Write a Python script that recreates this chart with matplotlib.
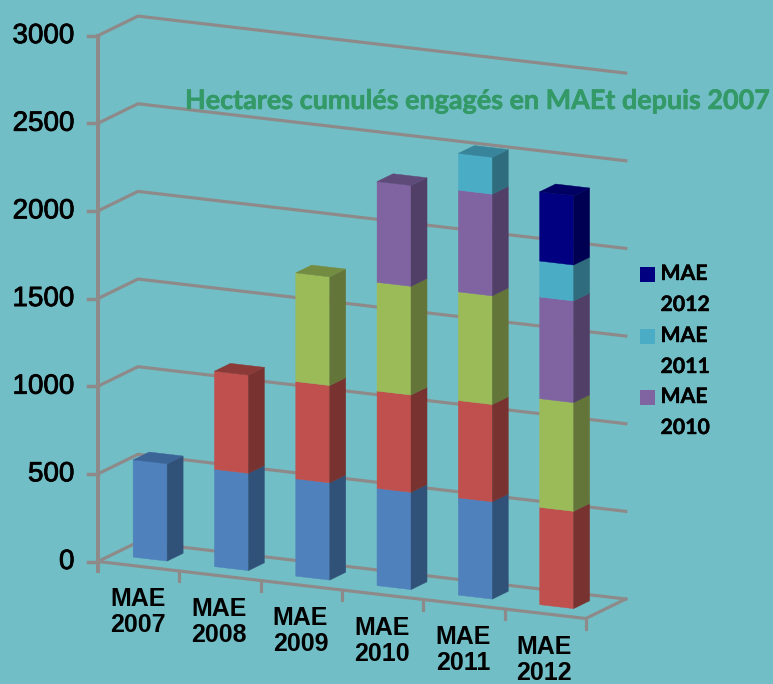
import matplotlib
matplotlib.use("Agg")
import matplotlib.pyplot as plt
import matplotlib.patheffects as pe

# data
categories = ["MAE\n2007", "MAE\n2008", "MAE\n2009", "MAE\n2010", "MAE\n2011", "MAE\n2012"]
mae_2007 = [555, 555, 555, 555, 555, 0]
mae_2008 = [0, 560, 555, 555, 555, 555]
mae_2009 = [0, 0, 620, 620, 620, 620]
mae_2010 = [0, 0, 0, 575, 580, 580]
mae_2011 = [0, 0, 0, 0, 210, 205]
mae_2012 = [0, 0, 0, 0, 0, 395]
y_ticks = [0, 500, 1000, 1500, 2000, 2500, 3000]
legend_names = ["MAE\n2012", "MAE\n2011", "MAE\n2010"]

series = [mae_2007, mae_2008, mae_2009, mae_2010, mae_2011, mae_2012]
# front, side, top
colors = [
    ("#4F81BD", "#305279", "#3B6497"),
    ("#C0504D", "#783230", "#8B3A38"),
    ("#9BBB59", "#647539", "#748C42"),
    ("#8064A2", "#523F67", "#5F4B79"),
    ("#4BACC6", "#2F6C7E", "#38859B"),
    ("#000080", "#000052", "#000064"),
]
bg = "#72BEC6"
grey = "#8E8A8A"


def proj(cat, value, depth=0.0):
    # cat = position along the floor, value = height, depth 0 front 1 back wall
    x = 98 + 81.3 * cat + 40 * depth
    y = 561.5 + 9.5 * cat - 0.1753 * value - 19.5 * depth
    return x, y


def poly(points, color, z):
    xs = [p[0] for p in points]
    ys = [p[1] for p in points]
    ax.fill(xs, ys, color=color, lw=0.3, zorder=z)


fig = plt.figure(figsize=(7.73, 6.84), dpi=100, facecolor=bg)
ax = fig.add_axes([0, 0, 1, 1])
ax.set_xlim(0, 773)
ax.set_ylim(684, 0)
ax.axis("off")

n = len(categories)
stroke = [pe.withStroke(linewidth=0.6, foreground="black")]
title_stroke = [pe.withStroke(linewidth=0.4, foreground="#339966")]

# walls and floor
for v in y_ticks:
    pts = [proj(0, v, 0), proj(0, v, 1), proj(n, v, 1)]
    ax.plot([p[0] for p in pts], [p[1] for p in pts], color=grey, lw=2.3, zorder=1, solid_joinstyle="miter")
    x0, y0 = proj(0, v, 0)
    ax.plot([x0 - 10, x0], [y0, y0], color=grey, lw=2.5, zorder=1)
    ax.text(74.5, y0 + 0.5, str(v), ha="right", va="center", fontsize=20, family="Liberation Sans",
            color="black", path_effects=stroke)

top = proj(0, 3000, 0)
ax.plot([top[0], top[0]], [top[1], proj(0, 0, 0)[1] + 9], color=grey, lw=2.9, zorder=1)
front = [proj(0, 0, 0), proj(n, 0, 0), proj(n, 0, 1)]
ax.plot([p[0] for p in front], [p[1] for p in front], color=grey, lw=2.3, zorder=1)
for i in range(1, n + 1):
    x0, y0 = proj(i, 0, 0)
    ax.plot([x0, x0], [y0, y0 + 10], color=grey, lw=2.3, zorder=1)

# bars
c0, c1 = 0.26, 0.678
d0, d1 = 0.35, 0.75
for i in range(n):
    base = 0
    for s, vals in enumerate(series):
        v = vals[i]
        if v == 0:
            continue
        t = base + v
        poly([proj(i + c0, base, d0), proj(i + c1, base, d0), proj(i + c1, t, d0), proj(i + c0, t, d0)], colors[s][0], 3)
        poly([proj(i + c1, base, d0), proj(i + c1, base, d1), proj(i + c1, t, d1), proj(i + c1, t, d0)], colors[s][1], 3)
        base = t
    # top cap takes the colour of the last segment
    last = [s for s in range(len(series)) if series[s][i] > 0][-1]
    poly([proj(i + c0, base, d0), proj(i + c1, base, d0), proj(i + c1, base, d1), proj(i + c0, base, d1)], colors[last][2], 3)

# x labels
for i, lab in enumerate(categories):
    x0, y0 = proj(i + 0.49, 0, 0)
    ax.text(x0, y0 + 46, lab, ha="center", va="center", fontsize=18, family="Liberation Sans",
            fontweight="bold", color="black", linespacing=1.1)

# title
ax.text(185, 101, "Hectares cumulés engagés en MAEt depuis 2007", ha="left", va="center", fontsize=19.4,
        family="Lato", fontweight="bold", color="#339966", zorder=5, path_effects=title_stroke)

# legend
leg_y = [267, 329, 390]
for name, yy, s in zip(legend_names, leg_y, [5, 4, 3]):
    ax.fill([640, 655, 655, 640], [yy, yy, yy + 15, yy + 15], color=colors[s][0], lw=0)
    a, b = name.split("\n")
    ax.text(660.5, yy + 7, a, ha="left", va="center", fontsize=15.3, family="Lato", fontweight="bold", color="black",
            path_effects=[pe.withStroke(linewidth=0.3, foreground="black")])
    ax.text(660.5, yy + 38, b, ha="left", va="center", fontsize=15.3, family="Lato", fontweight="bold", color="black",
            path_effects=[pe.withStroke(linewidth=0.3, foreground="black")])

fig.savefig("out.png", dpi=100, facecolor=bg)
